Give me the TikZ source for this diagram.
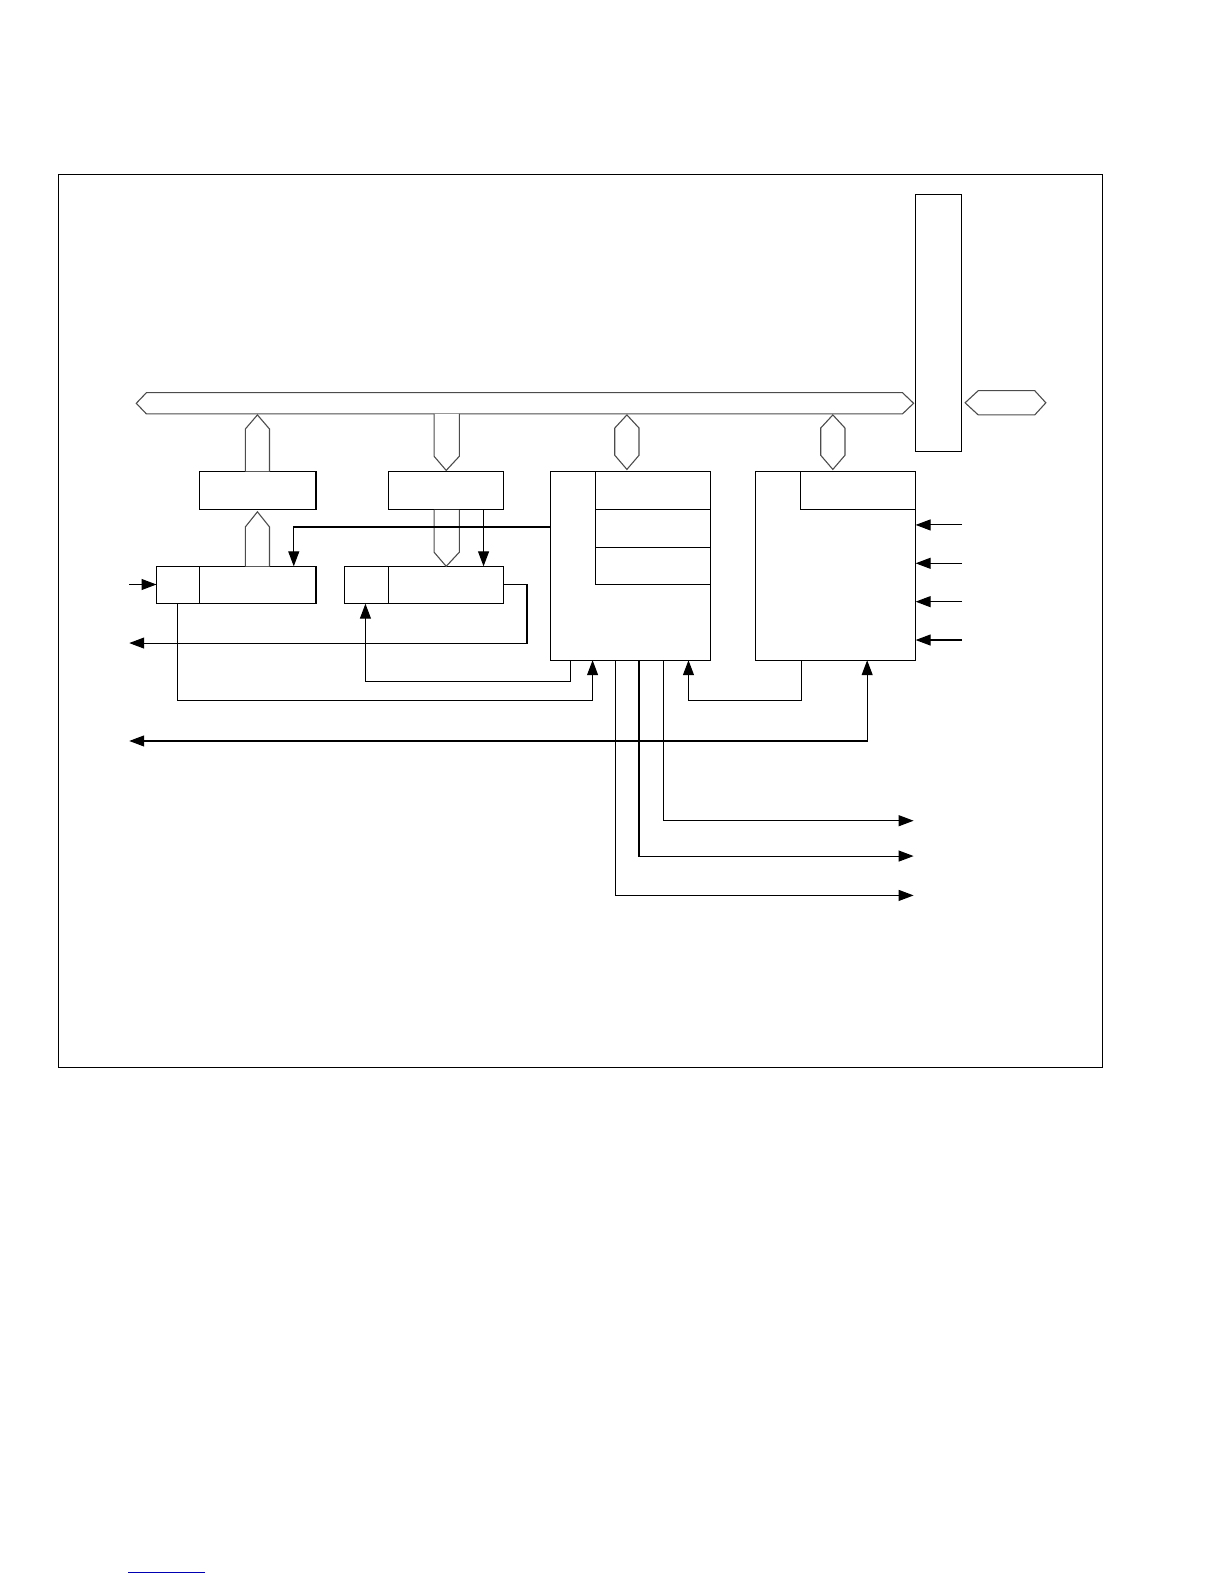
\documentclass[tikz,border=0pt]{standalone}
\usetikzlibrary{arrows.meta}
\begin{document}
\begin{tikzpicture}[x=1.0095bp, y=-1.0095bp, line width=1.1pt, >={Triangle[length=15pt, width=11pt]},
blockbox/.style={draw=black},
busarrow/.style={draw=black!70, fill=white}]
  \useasboundingbox (0,0) rectangle (1212.5,1569.1);
  % frame
  \draw[line width=0.9pt] (58,173) rectangle (1092,1057);
  % main bus and side bus
  \draw[busarrow] (135,399.5) -- (145,389) -- (894,389) -- (905,399.5) -- (894,410) -- (145,410) -- cycle;
  \draw[blockbox] (907,193) rectangle (952,447);
  \draw[busarrow] (956,399) -- (969,387) -- (1025,387) -- (1036,399) -- (1025,411) -- (969,411) -- cycle;
  % blocks
  \draw[blockbox] (198,467) rectangle (313,505);
  \draw[blockbox] (385,467) rectangle (499,505);
  \draw[blockbox] (155,561) rectangle (313,598); \draw (198,561) -- (198,598);
  \draw[blockbox] (341,561) rectangle (499,598); \draw (385,561) -- (385,598);
  \draw[blockbox] (545,467) rectangle (704,654);
  \draw (590,467) -- (590,579) -- (704,579);
  \draw (590,505) -- (704,505) (590,542) -- (704,542);
  \draw[blockbox] (748,467) rectangle (907,654);
  \draw (793,467) -- (793,505) -- (907,505);
  % bus stubs
  \draw[busarrow] (243,467) -- (243,425) -- (255,411) -- (267,425) -- (267,467);
  \draw[busarrow] (243,561) -- (243,522) -- (255,507) -- (267,522) -- (267,561);
  \draw[busarrow] (430,410) -- (430,452) -- (442,466) -- (455,452) -- (455,410);
  \draw[busarrow] (430,505) -- (430,547) -- (442,561) -- (455,547) -- (455,505);
  \foreach \cx in {621,825}
    \draw[busarrow] (\cx,411) -- (\cx+12,424) -- (\cx+12,451) -- (\cx,465) -- (\cx-12,451) -- (\cx-12,424) -- cycle;
  % control lines
  \draw[->] (479,505) -- (479,561);
  \draw[->] (545,522) -- (291,522) -- (291,561);
  \draw[->] (128,579) -- (155,579);
  \draw[->] (499,579) -- (522,579) -- (522,637) -- (128,637);
  \draw[->] (176,598) -- (176,694) -- (587,694) -- (587,654);
  \draw[->] (565,654) -- (565,675) -- (362,675) -- (362,598);
  \draw[->] (794,654) -- (794,694) -- (682,694) -- (682,654);
  \draw[<->] (128,734) -- (859,734) -- (859,654);
  \draw[->] (657,654) -- (657,813) -- (905,813);
  \draw[->] (633,654) -- (633,848) -- (905,848);
  \draw[->] (610,654) -- (610,887) -- (905,887);
  \foreach \yy in {520,558,596,634}
    \draw[->] (953,\yy) -- (907,\yy);
  % page link line
  \draw[blue!70!black, line width=0.8pt] (127,1558) -- (203,1558);
\end{tikzpicture}
\end{document}
